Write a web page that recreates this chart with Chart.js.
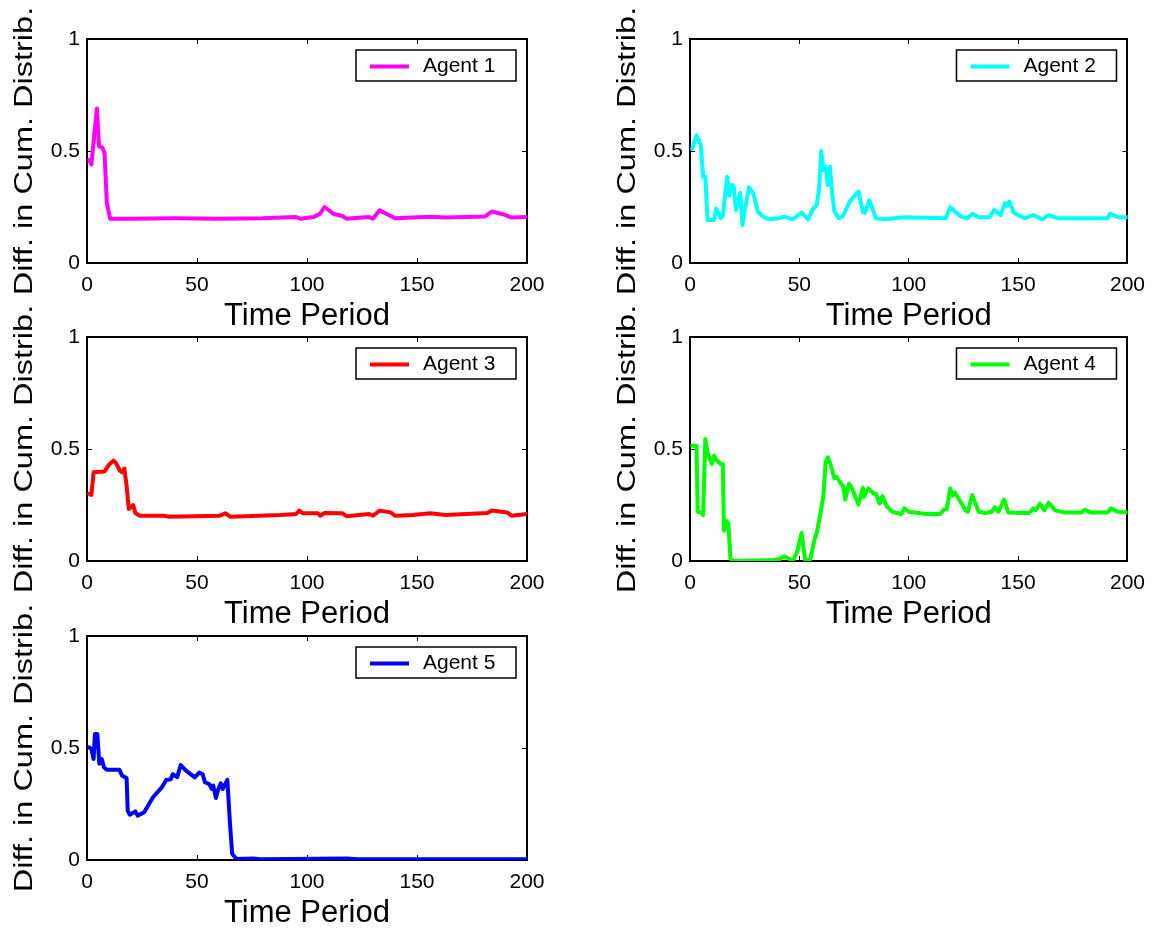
<!DOCTYPE html>
<html>
<head>
<meta charset="utf-8">
<title>Diff. in Cum. Distrib.</title>
<script src="https://cdn.jsdelivr.net/npm/chart.js@4/dist/chart.umd.min.js"></script>
<style>
  body { margin: 0; background: #fff; }
  #page { position: relative; width: 1162px; height: 934px; overflow: hidden; background: #fff; }
  .panel { position: absolute; }
</style>
</head>
<body>
<div id="page"></div>
<script>
// values: time period -> difference
const agent1T = [1, 2, 4.5, 5.5, 7, 8, 9, 10.5, 20, 40, 60, 80, 95, 97, 103, 106, 108, 112, 116, 118, 128, 130, 133, 137, 140, 156, 163, 181, 184, 190, 193, 200];
const agent1V = [0.46, 0.44, 0.69, 0.52, 0.515, 0.49, 0.27, 0.198, 0.198, 0.2, 0.198, 0.2, 0.205, 0.198, 0.205, 0.22, 0.25, 0.22, 0.21, 0.198, 0.205, 0.198, 0.235, 0.215, 0.2, 0.207, 0.203, 0.208, 0.23, 0.215, 0.203, 0.205];

const agent2T = [1, 3, 4, 5, 6, 7, 8, 11, 12, 14, 15, 17, 18, 19, 20, 21, 23, 24, 25, 27, 29, 31, 33, 36, 41, 43, 47, 51, 54, 56, 58, 59, 60, 61, 62, 63, 64, 65, 66, 68, 70, 73, 75, 77, 79, 80, 82, 85, 89, 98, 117, 119, 121, 124, 127, 129, 132, 137, 139, 142, 144, 145, 146, 148, 153, 157, 161, 164, 168, 191, 192, 196, 200];
const agent2V = [0.51, 0.57, 0.55, 0.52, 0.385, 0.385, 0.192, 0.192, 0.244, 0.2, 0.21, 0.385, 0.3, 0.348, 0.344, 0.237, 0.314, 0.17, 0.237, 0.338, 0.31, 0.23, 0.21, 0.195, 0.2, 0.207, 0.195, 0.225, 0.195, 0.237, 0.26, 0.33, 0.5, 0.415, 0.43, 0.348, 0.43, 0.31, 0.23, 0.2, 0.21, 0.274, 0.296, 0.319, 0.23, 0.225, 0.28, 0.2, 0.195, 0.204, 0.2, 0.249, 0.23, 0.207, 0.2, 0.22, 0.204, 0.204, 0.237, 0.214, 0.268, 0.256, 0.274, 0.225, 0.2, 0.214, 0.195, 0.214, 0.2, 0.2, 0.22, 0.204, 0.204];

const agent3T = [1, 2, 3, 8, 10, 12, 13, 15, 16, 17, 18, 19, 21, 22, 24, 35, 37, 60, 63, 65, 88, 95, 96.5, 98, 105, 106, 108, 116, 118, 128, 130, 133, 138, 140, 148, 156, 163, 182, 184, 191, 193, 200];
const agent3V = [0.3, 0.295, 0.396, 0.4, 0.43, 0.448, 0.44, 0.403, 0.396, 0.413, 0.336, 0.232, 0.25, 0.214, 0.202, 0.202, 0.198, 0.202, 0.213, 0.198, 0.205, 0.21, 0.225, 0.213, 0.213, 0.202, 0.214, 0.213, 0.2, 0.21, 0.202, 0.225, 0.217, 0.202, 0.205, 0.213, 0.205, 0.214, 0.225, 0.217, 0.202, 0.21];

const agent4T = [1, 3, 3.5, 5, 6, 7, 8, 10, 11, 12, 14, 15, 15.5, 16.5, 17.5, 18.5, 20, 35, 38, 41, 43, 45.5, 47, 49, 51, 52.7, 55, 57, 58, 60, 61, 62, 63, 64.4, 66, 67, 69, 70, 71, 72.7, 74, 77, 79, 79.5, 81.5, 84, 85, 86.7, 88, 90, 92.4, 96.7, 98, 100, 107.6, 114.4, 116, 117.4, 119, 120, 121, 126, 127, 129, 132, 135, 138, 139.4, 141, 143.6, 145.5, 155, 157, 158, 160, 162, 164, 167, 171, 179, 180.6, 183, 191, 192.4, 195.5, 200];
const agent4V = [0.515, 0.515, 0.22, 0.217, 0.205, 0.545, 0.485, 0.433, 0.47, 0.452, 0.433, 0.433, 0.135, 0.18, 0.17, 0.01, 0, 0.003, 0.003, 0.009, 0.021, 0.009, 0, 0.042, 0.125, 0, 0.009, 0.098, 0.128, 0.232, 0.292, 0.44, 0.463, 0.426, 0.369, 0.375, 0.345, 0.336, 0.274, 0.345, 0.327, 0.252, 0.327, 0.286, 0.324, 0.301, 0.3, 0.256, 0.29, 0.244, 0.22, 0.21, 0.235, 0.22, 0.21, 0.21, 0.229, 0.232, 0.324, 0.292, 0.307, 0.226, 0.22, 0.295, 0.22, 0.214, 0.22, 0.24, 0.22, 0.274, 0.217, 0.214, 0.235, 0.226, 0.256, 0.226, 0.26, 0.226, 0.217, 0.217, 0.229, 0.217, 0.217, 0.235, 0.22, 0.217];

const agent5T = [1, 2, 3, 3.6, 4.7, 5.6, 6.7, 7.7, 9, 14.7, 16, 18, 18.5, 19.5, 22, 23, 26, 30, 34, 36, 38, 39, 41, 42.6, 45, 49, 51, 52.6, 53.6, 55.6, 56.7, 57.4, 58.6, 59.7, 60.8, 61.7, 62.7, 63.8, 65, 66, 68, 75.6, 78.6, 118, 123, 200];
const agent5V = [0.503, 0.495, 0.451, 0.5625, 0.5625, 0.43, 0.451, 0.414, 0.403, 0.403, 0.376, 0.366, 0.22, 0.202, 0.217, 0.198, 0.213, 0.28, 0.324, 0.357, 0.36, 0.383, 0.37, 0.424, 0.399, 0.369, 0.39, 0.383, 0.347, 0.339, 0.317, 0.332, 0.277, 0.317, 0.342, 0.317, 0.336, 0.358, 0.161, 0.027, 0.004, 0.007, 0.003, 0.007, 0.003, 0.003];

const agentNames = ["Agent 1", "Agent 2", "Agent 3", "Agent 4", "Agent 5"];
const agentTimes = [agent1T, agent2T, agent3T, agent4T, agent5T];
const agentValues = [agent1V, agent2V, agent3V, agent4V, agent5V];
const xTickValues = [0, 50, 100, 150, 200];
const yTickValues = [0, 0.5, 1];
const xTitle = "Time Period";
const yTitle = "Diff. in Cum. Distrib.";

const agentColors = ["#ff00ff", "#00ffff", "#ff0000", "#00ff00", "#0000ff"];
const FONT = '"Liberation Sans", Arial, Helvetica, sans-serif';

// page layout: axes boxes of the 3x2 grid
const rowTops = [39, 337, 636];
const colLefts = [0, 600];
const axesLeft = [87, 90];
const CANVAS_W = 560, CANVAS_H = 376, PAD_TOP = 60, X_AXIS_H = 72;

Chart.defaults.font.family = FONT;
Chart.defaults.color = "#000";

// legend box sitting inside the axes, top right
const insetLegend = {
  id: "insetLegend",
  afterDatasetsDraw(chart) {
    const ds = chart.data.datasets[0];
    const { ctx, chartArea } = chart;
    const w = 160, h = 31;
    const x = chartArea.right - 11 - w;
    const y = chartArea.top + 11;
    ctx.save();
    ctx.fillStyle = "#fff";
    ctx.fillRect(x, y, w, h);
    ctx.strokeStyle = "#000";
    ctx.lineWidth = 1.5;
    ctx.strokeRect(x, y, w, h);
    ctx.strokeStyle = ds.borderColor;
    ctx.lineWidth = 4;
    ctx.beginPath();
    ctx.moveTo(x + 14, y + h / 2 + 1);
    ctx.lineTo(x + 53, y + h / 2 + 1);
    ctx.stroke();
    ctx.fillStyle = "#000";
    ctx.font = "21px " + FONT;
    ctx.textBaseline = "middle";
    ctx.fillText(ds.label, x + 67, y + h / 2 + 1);
    ctx.restore();
  },
};

// stretched rotated y label, like the original figure
const stretchedYLabel = {
  id: "stretchedYLabel",
  afterDraw(chart) {
    const { ctx, chartArea } = chart;
    ctx.save();
    ctx.translate(chartArea.left - 55, (chartArea.top + chartArea.bottom) / 2);
    ctx.rotate(-Math.PI / 2);
    ctx.scale(1.25, 1);
    ctx.font = "26px " + FONT;
    ctx.textAlign = "center";
    ctx.textBaseline = "alphabetic";
    ctx.fillStyle = "#000";
    ctx.fillText(yTitle, 0, 0);
    ctx.restore();
  },
};

const tickMarks = { drawOnChartArea: false, drawTicks: true, tickLength: -5, tickWidth: 1, color: "#000" };
const frame = { display: true, color: "#000", width: 2 };
const setXTicks = (s) => { s.ticks = xTickValues.map((v) => ({ value: v })); };
const setYTicks = (s) => { s.ticks = yTickValues.map((v) => ({ value: v })); };
const plainLabel = (v) => String(v);

const page = document.getElementById("page");

agentNames.forEach((name, i) => {
  const row = Math.floor(i / 2);
  const col = i % 2;
  const leftInCanvas = axesLeft[col];

  const div = document.createElement("div");
  div.className = "panel";
  div.style.left = colLefts[col] + "px";
  div.style.top = rowTops[row] - PAD_TOP + "px";
  const canvas = document.createElement("canvas");
  canvas.width = CANVAS_W;
  canvas.height = CANVAS_H;
  div.appendChild(canvas);
  page.appendChild(div);

  const points = agentTimes[i].map((t, k) => ({ x: t, y: agentValues[i][k] }));

  new Chart(canvas, {
    type: "line",
    data: {
      datasets: [
        {
          label: name,
          data: points,
          borderColor: agentColors[i],
          borderWidth: 4,
          borderJoinStyle: "round",
          borderCapStyle: "round",
          pointRadius: 0,
          tension: 0,
          fill: false,
        },
      ],
    },
    options: {
      responsive: false,
      devicePixelRatio: 1,
      animation: false,
      events: [],
      layout: {
        padding: { top: PAD_TOP, left: 0, right: CANVAS_W - leftInCanvas - 440, bottom: CANVAS_H - PAD_TOP - 224 - X_AXIS_H },
      },
      scales: {
        x: {
          type: "linear",
          position: "bottom",
          min: 0,
          max: 200,
          afterBuildTicks: setXTicks,
          afterFit: (s) => { s.height = X_AXIS_H; },
          grid: tickMarks,
          border: frame,
          ticks: { padding: 15, maxRotation: 0, font: { size: 21 }, color: "#000", callback: plainLabel },
          title: {
            display: true,
            text: xTitle,
            color: "#000",
            font: { size: 31 },
            padding: { top: 0, bottom: 0 },
          },
        },
        x2: {
          type: "linear",
          position: "top",
          min: 0,
          max: 200,
          afterBuildTicks: setXTicks,
          afterFit: (s) => { s.height = 0; },
          grid: tickMarks,
          border: frame,
          ticks: { display: false },
        },
        y: {
          type: "linear",
          position: "left",
          min: 0,
          max: 1,
          afterBuildTicks: setYTicks,
          afterFit: (s) => { s.width = leftInCanvas; },
          grid: tickMarks,
          border: frame,
          ticks: { padding: 12, font: { size: 21 }, color: "#000", callback: plainLabel },
        },
        y2: {
          type: "linear",
          position: "right",
          min: 0,
          max: 1,
          afterBuildTicks: setYTicks,
          afterFit: (s) => { s.width = 0; },
          grid: tickMarks,
          border: frame,
          ticks: { display: false },
        },
      },
      plugins: {
        legend: { display: false },
        tooltip: { enabled: false },
      },
    },
    plugins: [insetLegend, stretchedYLabel],
  });
});
</script>
</body>
</html>
